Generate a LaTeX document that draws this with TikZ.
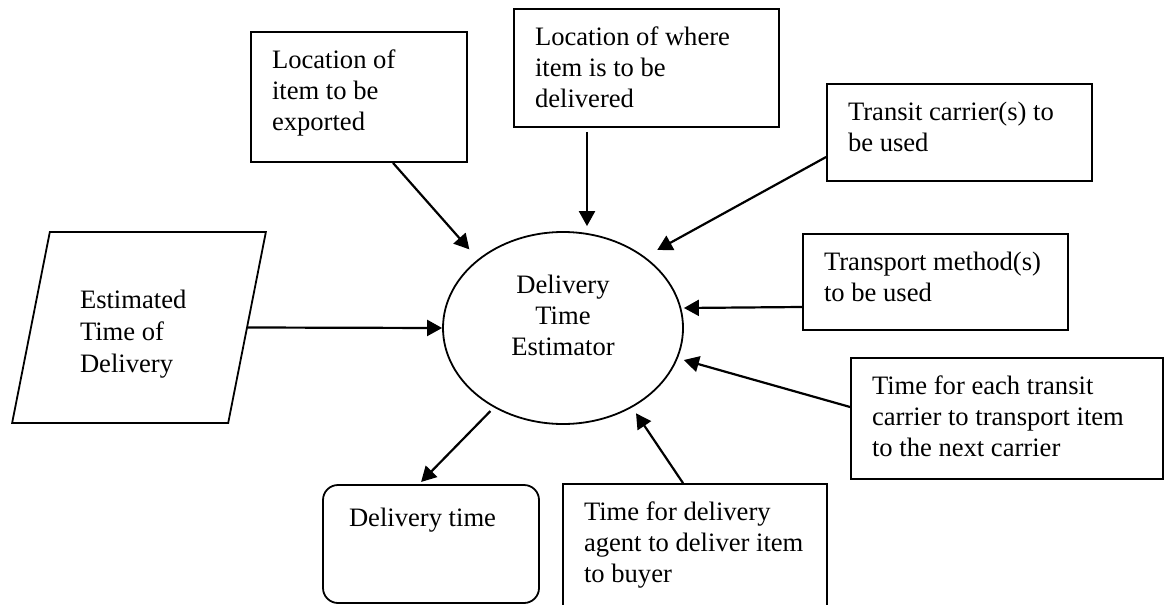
\documentclass[tikz,border=0pt]{standalone}
\usepackage{fontspec}
\setmainfont{Liberation Serif}
\usetikzlibrary{shapes.geometric,arrows.meta}

% text block that starts at the top left of its box
\newcommand{\boxtext}[3]{\parbox[t][#2][t]{#1}{\raggedright #3}}

\begin{document}
\begin{tikzpicture}[x=0.5pt, y=-0.5pt, font=\fontsize{13.3}{15.5}\selectfont,
    infobox/.style={draw, line width=0.9pt, inner xsep=10.5pt, inner ysep=8.9pt},
    flow/.style={-{Triangle[length=7.5pt,width=8pt]}, line width=1.1pt}]
    \useasboundingbox (0,0) rectangle (1165,604);
    \clip (0,0) rectangle (1165,604);

    % Central process
    \node[draw, ellipse, line width=0.9pt, minimum width=120pt, minimum height=96pt, inner sep=0pt]
        (estimator) at (563,328) {\parbox[t][53.2pt][t]{60pt}{\centering Delivery\\Time\\Estimator}};

    % Inputs
    \node[infobox] (srcloc) at (359,97)
        {\boxtext{87pt}{47.2pt}{Location of\\item to be\\exported}};
    \node[infobox] (dstloc) at (646.5,68)
        {\boxtext{111.5pt}{41.2pt}{Location of where\\item is to be\\delivered}};
    \node[infobox] (carrier) at (959.5,132.5)
        {\boxtext{111.5pt}{30.7pt}{Transit carrier(s) to\\be used}};
    \node[infobox] (method) at (935.5,282)
        {\boxtext{111.5pt}{30.2pt}{Transport method(s)\\to be used}};
    \node[infobox] (carriertime) at (1007,418.5)
        {\boxtext{135pt}{42.7pt}{Time for each transit\\carrier to transport item\\to the next carrier}};
    \node[infobox] (agenttime) at (695,557)
        {\boxtext{111pt}{55.2pt}{Time for delivery\\agent to deliver item\\to buyer}};

    % Data store and output
    \node[draw, trapezium, trapezium left angle=71.7, trapezium right angle=108.3,
        trapezium stretches=true, minimum width=127pt, minimum height=95.5pt,
        inner sep=0pt, line width=0.9pt]
        (esttime) at (139,327.5)
        {\boxtext{59pt}{37.7pt}{\baselineskip=16pt Estimated\\Time of\\Delivery}};
    \node[draw, rounded corners=7.5pt, line width=0.9pt, inner xsep=13pt, inner ysep=11.4pt]
        (dtime) at (431,544) {\boxtext{82pt}{36.2pt}{Delivery time}};

    % Connectors
    \draw[flow, shorten >=6.5pt] ([xshift=17pt]srcloc.south) -- (estimator.141.3);
    \draw[flow, shorten <=2pt, shorten >=2.5pt] ([xshift=-29.75pt]dstloc.south) -- ([xshift=12pt]estimator.north);
    \draw[flow, shorten >=7pt] ([yshift=-12.25pt]carrier.west) -- (estimator.41);
    \draw[flow] ([yshift=-12.5pt]method.west) -- ([yshift=10pt]estimator.east);
    \draw[flow] ([yshift=5.75pt]carriertime.west) -- ([yshift=-16pt]estimator.east);
    \draw[flow, shorten >=3.5pt] ([xshift=-6pt]agenttime.north) -- (estimator.-49);
    \draw[flow] (esttime.east) -- (estimator.west);
    \draw[flow, shorten <=2.5pt, shorten >=1.5pt] (estimator.-131) -- ([xshift=-6pt]dtime.north);
\end{tikzpicture}
\end{document}
